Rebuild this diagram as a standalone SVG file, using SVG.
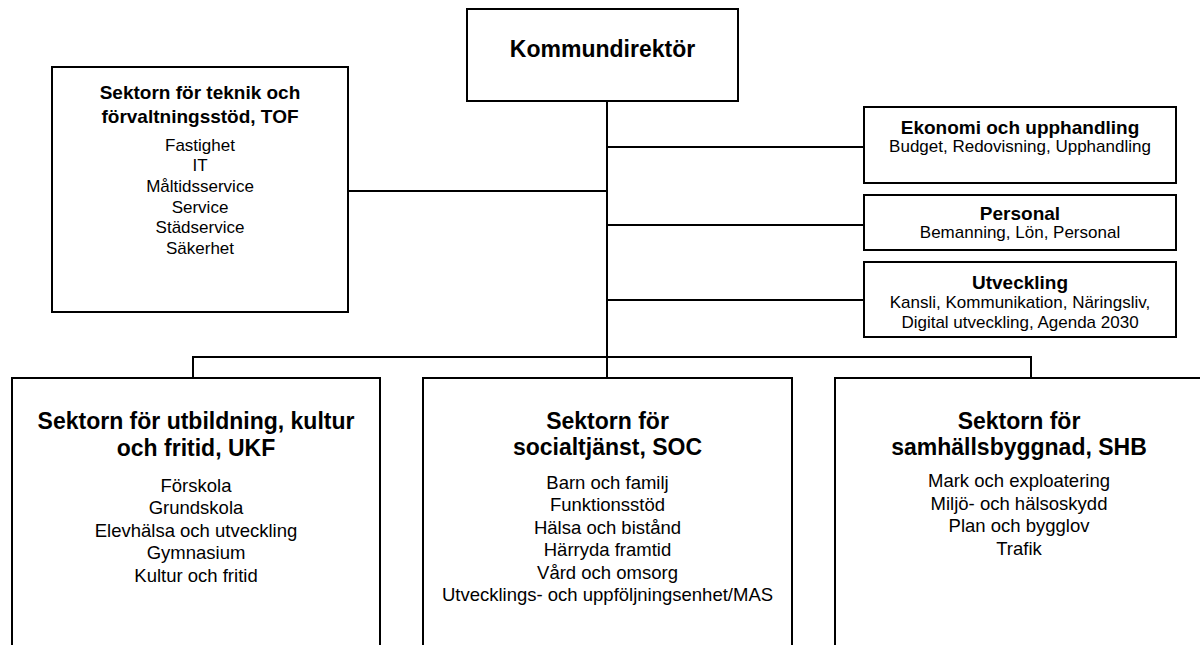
<svg xmlns="http://www.w3.org/2000/svg" width="1200" height="645" viewBox="0 0 1200 645">
<style>
.box{fill:#fff;stroke:#000;stroke-width:2}
.ln{fill:none;stroke:#000;stroke-width:2}
text{font-family:"Liberation Sans",Arial,sans-serif;fill:#000;text-anchor:middle}
.t23{font-size:23px;font-weight:bold}
.t19{font-size:19px;font-weight:bold}
.s17{font-size:17px}
.s18{font-size:18.5px}
</style>
<rect width="1200" height="645" fill="#fff"/>
<g id="connectors">
<path class="ln" d="M607,101 V357"/>
<path class="ln" d="M348,191 H607"/>
<path class="ln" d="M607,147 H864"/>
<path class="ln" d="M607,225 H864"/>
<path class="ln" d="M607,300 H864"/>
<path class="ln" d="M193,378 V357 H1031 V378"/>
<path class="ln" d="M607,357 V378"/>
</g>
<g id="kommundirektor">
<rect class="box" x="467" y="9" width="271" height="92"/>
<text class="t23" x="602.5" y="57">Kommundirektör</text>
</g>
<g id="tof">
<rect class="box" x="52" y="67" width="296" height="245"/>
<text class="t19" x="200" y="99">Sektorn för teknik och</text>
<text class="t19" x="200" y="123">förvaltningsstöd, TOF</text>
<text class="s17" x="200" y="150.5">Fastighet</text>
<text class="s17" x="200" y="171.2">IT</text>
<text class="s17" x="200" y="191.9">Måltidsservice</text>
<text class="s17" x="200" y="212.6">Service</text>
<text class="s17" x="200" y="233.3">Städservice</text>
<text class="s17" x="200" y="254">Säkerhet</text>
</g>
<g id="ekonomi">
<rect class="box" x="864" y="107" width="312" height="76"/>
<text class="t19" x="1020" y="133.5">Ekonomi och upphandling</text>
<text class="s17" x="1020" y="151.5">Budget, Redovisning, Upphandling</text>
</g>
<g id="personal">
<rect class="box" x="864" y="195" width="312" height="55"/>
<text class="t19" x="1020" y="219.5">Personal</text>
<text class="s17" x="1020" y="237.5">Bemanning, Lön, Personal</text>
</g>
<g id="utveckling">
<rect class="box" x="864" y="262" width="312" height="75"/>
<text class="t19" x="1020" y="288.5">Utveckling</text>
<text class="s17" x="1020" y="308">Kansli, Kommunikation, Näringsliv,</text>
<text class="s17" x="1020" y="328">Digital utveckling, Agenda 2030</text>
</g>
<g id="ukf">
<rect class="box" x="12" y="378" width="368" height="290"/>
<text class="t23" x="196" y="429">Sektorn för utbildning, kultur</text>
<text class="t23" x="196" y="456">och fritid, UKF</text>
<text class="s18" x="196" y="491.5">Förskola</text>
<text class="s18" x="196" y="514">Grundskola</text>
<text class="s18" x="196" y="536.5">Elevhälsa och utveckling</text>
<text class="s18" x="196" y="559">Gymnasium</text>
<text class="s18" x="196" y="581.5">Kultur och fritid</text>
</g>
<g id="soc">
<rect class="box" x="423" y="378" width="369" height="290"/>
<text class="t23" x="607.5" y="429">Sektorn för</text>
<text class="t23" x="607.5" y="455">socialtjänst, SOC</text>
<text class="s18" x="607.5" y="488.5">Barn och familj</text>
<text class="s18" x="607.5" y="511">Funktionsstöd</text>
<text class="s18" x="607.5" y="533.5">Hälsa och bistånd</text>
<text class="s18" x="607.5" y="556">Härryda framtid</text>
<text class="s18" x="607.5" y="578.5">Vård och omsorg</text>
<text class="s18" x="607.5" y="601">Utvecklings- och uppföljningsenhet/MAS</text>
</g>
<g id="shb">
<rect class="box" x="835" y="378" width="368" height="290"/>
<text class="t23" x="1019" y="429">Sektorn för</text>
<text class="t23" x="1019" y="455">samhällsbyggnad, SHB</text>
<text class="s18" x="1019" y="487">Mark och exploatering</text>
<text class="s18" x="1019" y="509.5">Miljö- och hälsoskydd</text>
<text class="s18" x="1019" y="532">Plan och bygglov</text>
<text class="s18" x="1019" y="554.5">Trafik</text>
</g>
</svg>
